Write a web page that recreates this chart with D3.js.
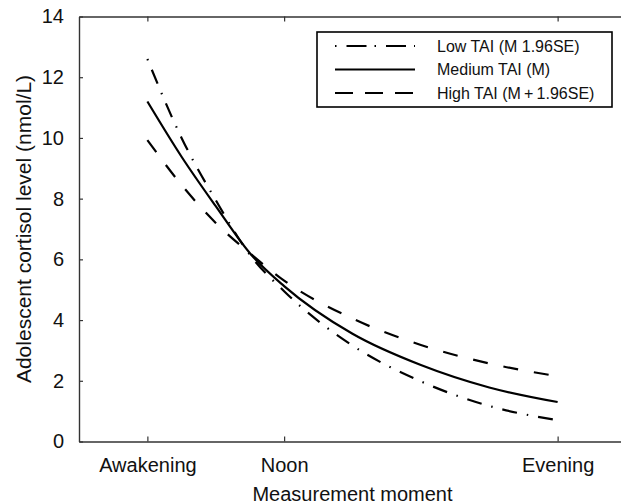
<!DOCTYPE html>
<html>
<head>
<meta charset="utf-8">
<script src="https://cdn.jsdelivr.net/npm/d3@7"></script>
<style>
  body { margin: 0; background: #fff; }
  svg { display: block; font-family: "Liberation Sans", Arial, sans-serif; }
</style>
</head>
<body>
<svg id="chart" width="621" height="504"></svg>
<script>
// Measurement moments (position on the time axis) and their labels
const moments = [0, 0.25, 0.5, 0.75, 1, 1.5, 2, 2.5, 3];
const tickPositions = [0, 1, 3];
const tickLabels = ["Awakening", "Noon", "Evening"];
const yTicks = [0, 2, 4, 6, 8, 10, 12, 14];

// Cortisol values (nmol/L)
const lowTAI = [12.6, 10.0, 7.95, 6.15, 4.95, 3.16, 1.98, 1.17, 0.7];
const mediumTAI = [11.2, 9.38, 7.75, 6.2, 5.12, 3.55, 2.52, 1.78, 1.3];
const highTAI = [9.93, 8.45, 7.2, 6.2, 5.3, 4.05, 3.18, 2.57, 2.15];

const seriesNames = ["Low TAI (M 1.96SE)", "Medium TAI (M)", "High TAI (M\u2009+\u20091.96SE)"];

const svg = d3.select("#chart");

// 1. Plot area
const plotLeft = 79, plotRight = 626, plotTop = 16.5, plotBottom = 441.5;

// 2. Scales
const xScale = d3.scaleLinear().domain([-0.5, 3.5]).range([plotLeft, plotRight]);
const yScale = d3.scaleLinear().domain([0, 14]).range([plotBottom, plotTop]);

// 3. Series with their dash styles
const series = [
  { name: seriesNames[0], values: lowTAI, dash: "1.5,10,15,10", legendDash: "1.5,10,20,8" },
  { name: seriesNames[1], values: mediumTAI, dash: null, legendDash: null },
  { name: seriesNames[2], values: highTAI, dash: "15,16", legendDash: "18,12" }
];

const lineGenerator = d3.line()
  .x(d => xScale(d.x))
  .y(d => yScale(d.y))
  .curve(d3.curveMonotoneX);

svg.selectAll(".curve")
  .data(series)
  .join("path")
  .attr("class", "curve")
  .attr("fill", "none")
  .attr("stroke", "#000")
  .attr("stroke-width", 2.2)
  .attr("stroke-dasharray", s => s.dash)
  .attr("d", s => lineGenerator(moments.map((m, i) => ({ x: m, y: s.values[i] }))));

// 4. Axes (ticks point inward on all four sides)
const axisColor = "#333";

const xAxis = d3.axisBottom(xScale)
  .tickValues(tickPositions)
  .tickFormat((d, i) => tickLabels[i])
  .tickSizeInner(-5).tickSizeOuter(0).tickPadding(16);

const gx = svg.append("g")
  .attr("transform", `translate(0, ${plotBottom})`)
  .call(xAxis);

const yAxis = d3.axisLeft(yScale)
  .tickValues(yTicks)
  .tickSizeInner(-4).tickSizeOuter(0).tickPadding(15);

const gy = svg.append("g")
  .attr("transform", `translate(${plotLeft}, 0)`)
  .call(yAxis);

const gTop = svg.append("g")
  .attr("transform", `translate(0, ${plotTop})`)
  .call(d3.axisTop(xScale).tickValues(tickPositions).tickFormat("").tickSizeInner(-5).tickSizeOuter(0));

const gRight = svg.append("g")
  .attr("transform", `translate(${plotRight}, 0)`)
  .call(d3.axisRight(yScale).tickValues(yTicks).tickFormat("").tickSizeInner(-4).tickSizeOuter(0));

[gx, gy, gTop, gRight].forEach(g => {
  g.selectAll(".domain").attr("stroke", axisColor).attr("stroke-width", 1.4);
  g.selectAll(".tick line").attr("stroke", axisColor).attr("stroke-width", 1.2);
  g.selectAll("text").attr("fill", "#111").attr("font-size", 20).attr("font-family", "Liberation Sans, Arial, sans-serif");
});

// 5. Axis titles
svg.append("text")
  .attr("x", (plotLeft + plotRight) / 2)
  .attr("y", 501)
  .attr("text-anchor", "middle")
  .attr("font-size", 20)
  .attr("fill", "#111")
  .text("Measurement moment");

svg.append("text")
  .attr("transform", `translate(31, ${(plotTop + plotBottom) / 2}) rotate(-90)`)
  .attr("text-anchor", "middle")
  .attr("font-size", 21)
  .attr("fill", "#111")
  .text("Adolescent cortisol level (nmol/L)");

// 6. Legend
const legend = svg.append("g");

legend.append("rect")
  .attr("x", 317).attr("y", 32)
  .attr("width", 295).attr("height", 75)
  .attr("fill", "#fff")
  .attr("stroke", "#000")
  .attr("stroke-width", 1.6);

const rows = legend.selectAll(".row")
  .data(series)
  .join("g")
  .attr("class", "row")
  .attr("transform", (d, i) => `translate(0, ${46 + i * 23.5})`);

rows.append("line")
  .attr("x1", 335).attr("x2", 415)
  .attr("stroke", "#000")
  .attr("stroke-width", 2.2)
  .attr("stroke-dasharray", d => d.legendDash);

rows.append("text")
  .attr("x", 437)
  .attr("dy", "0.36em")
  .attr("font-size", 16)
  .attr("fill", "#111")
  .text(d => d.name);
</script>
</body>
</html>
